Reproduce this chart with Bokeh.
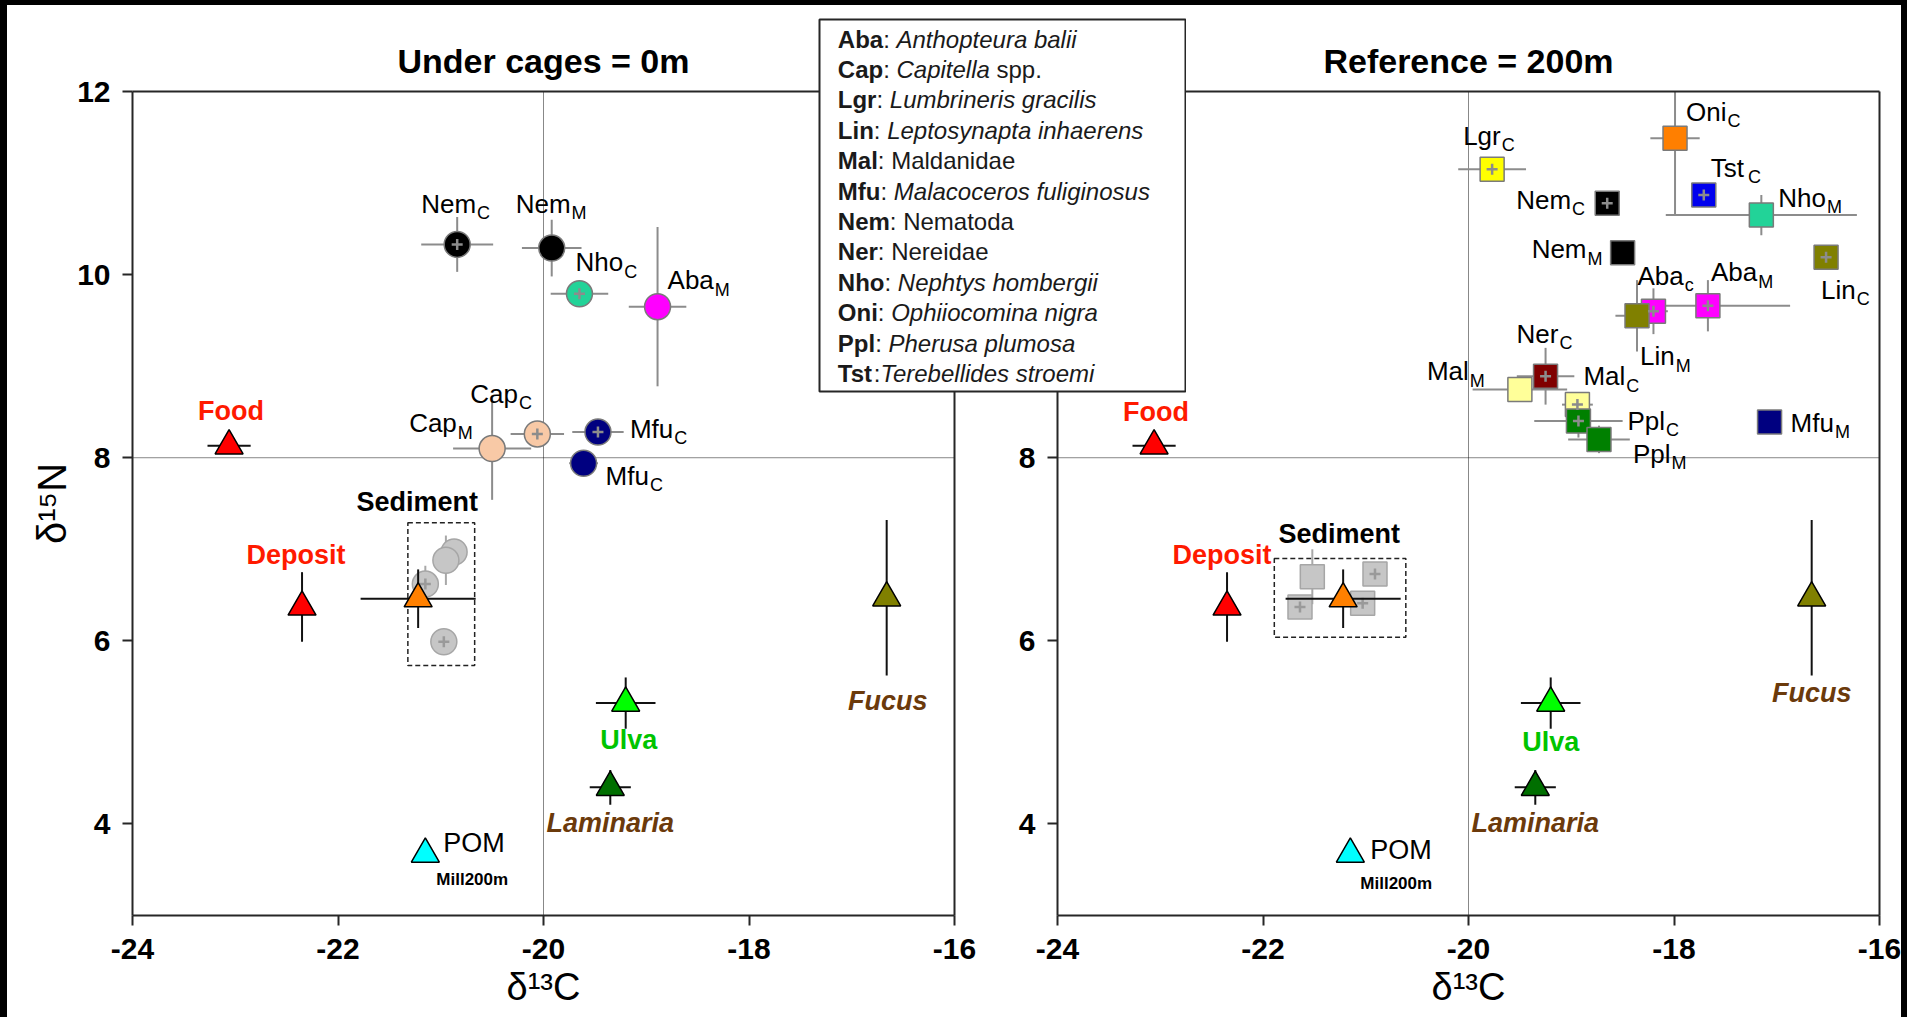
from bokeh.plotting import figure
from bokeh.models import ColumnDataSource, Range1d, FixedTicker, LinearAxis, Span
from bokeh.layouts import row
from bokeh.core.properties import value
from bokeh.embed import file_html
from bokeh.resources import INLINE
try:
    from bokeh.models import GlobalInlineStyleSheet
except Exception:
    GlobalInlineStyleSheet = None

FONT = "Liberation Sans"

# ------------------------------------------------------------------ data
# Left panel: "Under cages = 0m" (fauna, circles)
cage_taxa = ["Nem", "Nem", "Nho", "Aba", "Cap", "Cap", "Mfu", "Mfu"]
cage_sub = ["C", "M", "C", "M", "C", "M", "C", "C"]
cage_d13c = [-20.84, -19.92, -19.65, -18.89, -20.06, -20.50, -19.47, -19.61]
cage_d15n = [10.33, 10.29, 9.79, 9.65, 8.26, 8.10, 8.28, 7.94]
cage_sd13c = [0.35, 0.29, 0.28, 0.28, 0.26, 0.38, 0.25, 0.14]
cage_sd15n = [0.30, 0.31, 0.08, 0.87, 0.08, 0.56, 0.05, 0.05]
cage_plus = [1, 0, 1, 0, 1, 0, 1, 0]

cage_sed_d13c = [-20.87, -20.95, -21.15, -20.97]
cage_sed_d15n = [6.97, 6.88, 6.62, 5.99]
cage_sed_sd13c = [0.05, 0.05, 0.05, 0.05]
cage_sed_sd15n = [0.10, 0.27, 0.20, 0.08]
cage_sed_plus = [0, 0, 1, 1]
cage_sed_box = [-21.32, -20.67, 5.73, 7.29]   # left, right, bottom, top

# Right panel: "Reference = 200m" (fauna, squares)
ref_taxa = ["Lgr", "Oni", "Tst", "Nho", "Nem", "Nem", "Lin", "Aba", "Aba",
            "Lin", "Ner", "Mal", "Mal", "Ppl", "Ppl", "Mfu"]
ref_sub = ["C", "C", "C", "M", "C", "M", "C", "c", "M",
           "M", "C", "M", "C", "C", "M", "M"]
ref_d13c = [-19.77, -17.99, -17.71, -17.15, -18.65, -18.50, -16.52, -18.20, -17.67,
            -18.36, -19.25, -19.50, -18.94, -18.93, -18.73, -17.07]
ref_d15n = [11.15, 11.49, 10.87, 10.65, 10.78, 10.24, 10.19, 9.60, 9.66,
            9.55, 8.89, 8.745, 8.58, 8.40, 8.20, 8.39]
ref_sd13c = [0.33, 0.24, 0.05, 0.93, 0.05, 0.05, 0.10, 0.14, 0.80,
             0.21, 0.28, 0.46, 0.15, 0.43, 0.30, 0.05]
ref_sd15n = [0.05, 0.84, 0.05, 0.22, 0.05, 0.05, 0.10, 0.25, 0.28,
             0.39, 0.31, 0.10, 0.12, 0.18, 0.15, 0.05]
ref_plus = [1, 0, 1, 0, 1, 0, 1, 1, 1, 0, 1, 0, 1, 1, 0, 0]

ref_sed_d13c = [-21.52, -20.91, -21.64, -21.03]
ref_sed_d15n = [6.70, 6.73, 6.37, 6.41]
ref_sed_sd13c = [0.05, 0.05, 0.05, 0.05]
ref_sed_sd15n = [0.30, 0.10, 0.10, 0.10]
ref_sed_plus = [0, 1, 1, 1]
ref_sed_box = [-21.89, -20.61, 6.04, 6.90]

# Food sources (same in both panels)
src_names = ["Food", "Deposit", "Sediment", "POM", "Ulva", "Laminaria", "Fucus"]
src_d13c = [-23.06, -22.35, -21.22, -21.15, -19.20, -19.35, -16.66]
src_d15n = [8.13, 6.37, 6.46, 3.67, 5.32, 4.40, 6.47]
src_sd13c = [0.21, 0.0, 0.56, 0.0, 0.29, 0.20, 0.0]
src_sd15n = [0.0, 0.38, 0.32, 0.0, 0.28, 0.19, 0.85]
pom_note = "Mill200m"

# Legend
leg_abbr = ["Aba", "Cap", "Lgr", "Lin", "Mal", "Mfu", "Nem", "Ner", "Nho", "Oni", "Ppl", "Tst"]
leg_name = ["Anthopteura balii", "Capitella", "Lumbrineris gracilis", "Leptosynapta inhaerens",
            "Maldanidae", "Malacoceros fuliginosus", "Nematoda", "Nereidae",
            "Nephtys hombergii", "Ophiiocomina nigra", "Pherusa plumosa", "Terebellides stroemi"]
leg_suffix = ["", "spp.", "", "", "", "", "", "", "", "", "", ""]
leg_sep = [":"] * 12
leg_gap = [1] * 11 + [0]
leg_italic = [1, 1, 1, 1, 0, 1, 0, 0, 1, 1, 1, 1]

# ------------------------------------------------------------------ styles
TAXON_COLOR = {"Nem": "#000000", "Nho": "#22D398", "Aba": "#FF00FF", "Cap": "#F8C9A6",
               "Mfu": "#000080", "Lgr": "#FFFF00", "Oni": "#FF7F00", "Tst": "#0000EE",
               "Lin": "#808000", "Ner": "#800000", "Mal": "#FFFF99", "Ppl": "#008000"}
SRC_FILL = ["#FF0000", "#FF0000", "#FF8000", "#00FFFF", "#00FF00", "#006F00", "#808000"]
SRC_TXT_COLOR = ["#FF1A00", "#FF1A00", "#000000", "#000000", "#00C400", "#6B3A0B", "#6B3A0B"]
SRC_TXT_STYLE = ["bold", "bold", "bold", "normal", "bold", "bold italic", "bold italic"]
SRC_TXT_ALIGN = ["center", "center", "center", "left", "center", "center", "center"]

cage_lbl_dx = [-36, -36, -4, 10, -67, -83, 32, 22]
cage_lbl_dy = [-31, -35, -22, -17, -31, -16, 6, 22]
ref_lbl_dx = [-29, 11, 7, 17, -91, -91, -5, -16, 3, 3, -29, -93, 6, 49, 34, 21]
ref_lbl_dy = [-24, -17, -18, -8, 6, 6, 42, -26, -24, 50, -33, -9, -19, 9, 24, 10]
cage_src_dx = [2, -6, -1, 18, 3, 0, 1]
cage_src_dy = [-25, -42, -87, -1, 47, 45, 113]
ref_src_dx = [2, -5, -4, 20, 0, 0, 0]
ref_src_dy = [-24, -42, -55, 6, 49, 45, 105]

LBL_FS, SUB_FS, SRC_FS, MILL_FS = 26, 18, 27, 17
BASE_K = 0.36          # baseline correction (fraction of font size)

REG = {' ': 278, ':': 278, '.': 278, '-': 333}
BOLD = {' ': 278, ':': 333, '.': 278, '-': 333}
for d in "0123456789":
    REG[d] = 556
    BOLD[d] = 556
REG.update(dict(zip("ABCDEFGHIJKLMNOPQRSTUVWXYZ",
    [667, 667, 722, 722, 667, 611, 778, 722, 278, 500, 667, 556, 833, 722, 778, 667, 778, 722, 667, 611, 722, 667, 944, 667, 667, 611])))
REG.update(dict(zip("abcdefghijklmnopqrstuvwxyz",
    [556, 556, 500, 556, 556, 278, 556, 556, 222, 222, 500, 222, 833, 556, 556, 556, 556, 333, 500, 278, 556, 500, 722, 500, 500, 500])))
BOLD.update(dict(zip("ABCDEFGHIJKLMNOPQRSTUVWXYZ",
    [722, 722, 722, 722, 667, 611, 778, 722, 278, 556, 722, 611, 833, 722, 778, 667, 778, 722, 667, 611, 722, 667, 944, 667, 667, 611])))
BOLD.update(dict(zip("abcdefghijklmnopqrstuvwxyz",
    [556, 611, 556, 611, 556, 333, 611, 611, 278, 278, 556, 278, 889, 611, 611, 611, 611, 389, 556, 333, 611, 556, 778, 556, 556, 500])))


def tw(s, size, bold=False):
    t = BOLD if bold else REG
    return sum(t.get(c, 556) for c in s) * size / 1000.0


AX_COL = "#262626"
TOP_B, BOT_B = 86, 102


def border_axis(p, side):
    ax = LinearAxis(ticker=FixedTicker(ticks=[]), major_tick_out=0, major_tick_in=0,
                    minor_tick_out=0, minor_tick_in=0, major_label_standoff=0,
                    axis_line_color=AX_COL, axis_line_width=2)
    p.add_layout(ax, side)


def build_panel(title, taxa, subs, xs, ys, sxs, sys_, plus, marker, msize,
                lbl_dx, lbl_dy, sed_x, sed_y, sed_sx, sed_sy, sed_plus, sed_box,
                src_dx, src_dy, mill_dx, mill_dy, bl, br, ylabel):
    p = figure(x_range=Range1d(-24, -16), y_range=Range1d(3, 12),
               frame_width=822, frame_height=824,
               min_border_left=bl, min_border_right=br,
               min_border_top=TOP_B, min_border_bottom=BOT_B,
               toolbar_location=None, output_backend="svg", title=title)
    p.title.align = "center"
    p.title.text_font = FONT
    p.title.text_font_size = "34px"
    p.title.text_font_style = "bold"
    p.title.text_color = "#000000"
    p.title.standoff = 24
    p.outline_line_color = None
    p.xgrid.visible = False
    p.ygrid.visible = False
    p.background_fill_color = "#FFFFFF"

    xt = [-24, -22, -20, -18, -16]
    yt = [4, 6, 8, 10, 12]
    for ax, ticks in ((p.xaxis[0], xt), (p.yaxis[0], yt)):
        ax.ticker = FixedTicker(ticks=ticks)
        ax.major_label_overrides = {t: str(t) for t in ticks}
        ax.minor_tick_out = 0
        ax.minor_tick_in = 0
        ax.major_tick_in = 0
        ax.major_tick_out = 10
        ax.major_tick_line_color = AX_COL
        ax.major_tick_line_width = 2
        ax.axis_line_color = AX_COL
        ax.axis_line_width = 2
        ax.major_label_text_font = FONT
        ax.major_label_text_font_size = "30px"
        ax.major_label_text_font_style = "bold"
        ax.major_label_text_color = "#000000"
        ax.axis_label_text_font = FONT
        ax.axis_label_text_font_style = "normal"
        ax.axis_label_text_color = "#000000"
    p.xaxis[0].axis_label_text_font_size = "38px"
    p.yaxis[0].axis_label_text_font_size = "40px"
    p.xaxis[0].major_label_standoff = 13
    p.yaxis[0].major_label_standoff = 12
    p.xaxis[0].axis_label_standoff = 4
    p.yaxis[0].axis_label_standoff = 0
    p.xaxis[0].axis_label = "δ¹³C"
    if ylabel:
        p.yaxis[0].axis_label = "δ¹⁵N"
    border_axis(p, "above")
    border_axis(p, "right")

    for loc, dim in ((-20, "height"), (8, "width")):
        p.add_layout(Span(location=loc, dimension=dim, line_color="#111111",
                          line_width=1, line_dash="1 1", level="underlay"))

    # sediment dashed frame
    p.quad(left=[sed_box[0]], right=[sed_box[1]], bottom=[sed_box[2]], top=[sed_box[3]],
           fill_alpha=0, line_color="#222222", line_width=1.5, line_dash="5 3")

    # fauna error bars + markers
    fx0 = [x - s for x, s in zip(xs, sxs)]
    fx1 = [x + s for x, s in zip(xs, sxs)]
    fy0 = [y - s for y, s in zip(ys, sys_)]
    fy1 = [y + s for y, s in zip(ys, sys_)]
    p.segment(x0=fx0, x1=fx1, y0=ys, y1=ys, line_color="#8C8C8C", line_width=2)
    p.segment(x0=xs, x1=xs, y0=fy0, y1=fy1, line_color="#8C8C8C", line_width=2)
    fsrc = ColumnDataSource(dict(x=xs, y=ys, c=[TAXON_COLOR[t] for t in taxa]))
    p.scatter("x", "y", source=fsrc, marker=marker, size=msize, fill_color="c",
              line_color="#7A7A7A", line_width=1.5)
    px = [x for x, f in zip(xs, plus) if f]
    py = [y for y, f in zip(ys, plus) if f]
    p.scatter(px, py, marker="cross", size=11, line_color="#8C8C8C", line_width=2.5)

    # sediment samples
    sx0 = [x - s for x, s in zip(sed_x, sed_sx)]
    sx1 = [x + s for x, s in zip(sed_x, sed_sx)]
    sy0 = [y - s for y, s in zip(sed_y, sed_sy)]
    sy1 = [y + s for y, s in zip(sed_y, sed_sy)]
    p.segment(x0=sx0, x1=sx1, y0=sed_y, y1=sed_y, line_color="#A8A8A8", line_width=2)
    p.segment(x0=sed_x, x1=sed_x, y0=sy0, y1=sy1, line_color="#A8A8A8", line_width=2)
    p.scatter(sed_x, sed_y, marker=marker, size=msize, fill_color="#C6C6C6",
              line_color="#A6A6A6", line_width=1.5)
    spx = [x for x, f in zip(sed_x, sed_plus) if f]
    spy = [y for y, f in zip(sed_y, sed_plus) if f]
    p.scatter(spx, spy, marker="cross", size=11, line_color="#9A9A9A", line_width=2.5)

    # sources
    rx0 = [x - s for x, s in zip(src_d13c, src_sd13c)]
    rx1 = [x + s for x, s in zip(src_d13c, src_sd13c)]
    ry0 = [y - s for y, s in zip(src_d15n, src_sd15n)]
    ry1 = [y + s for y, s in zip(src_d15n, src_sd15n)]
    p.segment(x0=rx0, x1=rx1, y0=src_d15n, y1=src_d15n, line_color="#111111", line_width=2)
    p.segment(x0=src_d13c, x1=src_d13c, y0=ry0, y1=ry1, line_color="#111111", line_width=2)
    p.scatter(src_d13c, src_d15n, marker="triangle", size=28, fill_color=SRC_FILL,
              line_color="#000000", line_width=1.5)

    # fauna labels (main text + subscript)
    ldy = [dy - BASE_K * LBL_FS for dy in lbl_dy]
    lsrc = ColumnDataSource(dict(x=xs, y=ys, t=taxa, dx=lbl_dx, dy=ldy))
    p.text("x", "y", text="t", x_offset="dx", y_offset="dy", source=lsrc,
           text_font=value(FONT), text_font_size=value("%dpx" % LBL_FS), text_color="#000000",
           text_align="left", text_baseline="alphabetic")
    sdx = [dx + tw(t, LBL_FS) + 1 for dx, t in zip(lbl_dx, taxa)]
    sdy = [dy + 6.5 - BASE_K * SUB_FS for dy in lbl_dy]
    ssrc = ColumnDataSource(dict(x=xs, y=ys, t=subs, dx=sdx, dy=sdy))
    p.text("x", "y", text="t", x_offset="dx", y_offset="dy", source=ssrc,
           text_font=value(FONT), text_font_size=value("%dpx" % SUB_FS), text_color="#000000",
           text_align="left", text_baseline="alphabetic")

    # source labels
    for align in ("center", "left"):
        idx = [i for i, a in enumerate(SRC_TXT_ALIGN) if a == align]
        d = dict(x=[src_d13c[i] for i in idx], y=[src_d15n[i] for i in idx],
                 t=[src_names[i] for i in idx], dx=[src_dx[i] for i in idx],
                 dy=[src_dy[i] - BASE_K * SRC_FS for i in idx],
                 c=[SRC_TXT_COLOR[i] for i in idx], s=[SRC_TXT_STYLE[i] for i in idx])
        p.text("x", "y", text="t", x_offset="dx", y_offset="dy", source=ColumnDataSource(d),
               text_font=value(FONT), text_font_size=value("%dpx" % SRC_FS), text_color="c",
               text_font_style="s", text_align=align, text_baseline="alphabetic")
    ipom = src_names.index("POM")
    p.text([src_d13c[ipom]], [src_d15n[ipom]], text=[pom_note], x_offset=mill_dx,
           y_offset=mill_dy - BASE_K * MILL_FS,
           text_font=value(FONT), text_font_size=value("%dpx" % MILL_FS), text_font_style="bold",
           text_color="#000000", text_align="left", text_baseline="alphabetic")
    return p


p1 = build_panel("Under cages = 0m", cage_taxa, cage_sub, cage_d13c, cage_d15n, cage_sd13c,
                 cage_sd15n, cage_plus, "circle", 26, cage_lbl_dx, cage_lbl_dy,
                 cage_sed_d13c, cage_sed_d15n, cage_sed_sd13c, cage_sed_sd15n, cage_sed_plus,
                 cage_sed_box, cage_src_dx, cage_src_dy, 11, 31, 125, 103, True)
p2 = build_panel("Reference = 200m", ref_taxa, ref_sub, ref_d13c, ref_d15n, ref_sd13c,
                 ref_sd15n, ref_plus, "square", 24, ref_lbl_dx, ref_lbl_dy,
                 ref_sed_d13c, ref_sed_d15n, ref_sed_sd13c, ref_sed_sd15n, ref_sed_plus,
                 ref_sed_box, ref_src_dx, ref_src_dy, 10, 35, 257, 22, False)
p1.border_fill_color = "#FFFFFF"
p2.border_fill_alpha = 0.0

# ------------------------------------------------------------------ legend box
LW, LH = 366, 372
p3 = figure(x_range=Range1d(0, LW), y_range=Range1d(LH, 0), frame_width=LW, frame_height=LH,
            min_border_left=1, min_border_right=1, min_border_top=TOP_B, min_border_bottom=BOT_B,
            toolbar_location=None, output_backend="svg",
            x_axis_location=None, y_axis_location=None)
p3.grid.visible = False
p3.background_fill_color = "#FFFFFF"
p3.border_fill_alpha = 0.0
p3.outline_line_color = "#262626"
p3.outline_line_width = 2

LFS = 24
LX, LY0, LDY = 18.3, 28.3 - BASE_K * LFS, 30.4
parts = {"bold": ([], [], []), "normal": ([], [], []), "italic": ([], [], [])}
for i, (a, sep, gap, nm, suf, it) in enumerate(zip(leg_abbr, leg_sep, leg_gap, leg_name,
                                                     leg_suffix, leg_italic)):
    yy = LY0 + LDY * i
    x = LX
    parts["bold"][0].append(x); parts["bold"][1].append(yy); parts["bold"][2].append(a)
    x += tw(a, LFS, True)
    parts["normal"][0].append(x); parts["normal"][1].append(yy); parts["normal"][2].append(sep)
    x += tw(sep, LFS) + gap * tw(" ", LFS)
    key = "italic" if it else "normal"
    parts[key][0].append(x); parts[key][1].append(yy); parts[key][2].append(nm)
    x += tw(nm, LFS) + tw(" ", LFS)
    if suf:
        parts["normal"][0].append(x); parts["normal"][1].append(yy); parts["normal"][2].append(suf)
for style, (xx, yy, tt) in parts.items():
    p3.text(xx, yy, text=tt, text_font=value(FONT), text_font_size=value("%dpx" % LFS),
            text_font_style=style, text_color="#1A1A1A", text_align="left",
            text_baseline="alphabetic")

# ------------------------------------------------------------------ layout
# body border gives the black strips (top 5, left 7, right 6); content starts at (7, 5)
p1.margin = (0, 0, 0, 0)
p2.margin = (0, 0, 0, -257)            # right canvas starts at x = 800
p3.margin = (19 - TOP_B - 5, 0, 0, 818 - 1901)
for pp in (p1, p2, p3):
    pp.align = "start"

kw = {}
if GlobalInlineStyleSheet is not None:
    kw["stylesheets"] = [GlobalInlineStyleSheet(
        css="html {margin:0; padding:0; overflow:hidden; background:#FFFFFF;} "
            "body {margin:0; padding:0; overflow:hidden; background:#FFFFFF; "
            "border-top:5px solid #000000; border-left:7px solid #000000; "
            "border-right:6px solid #000000; min-height:1012px;}")]
layout = row(p1, p2, p3, **kw)

open("out.html", "w").write(file_html(layout, INLINE))
